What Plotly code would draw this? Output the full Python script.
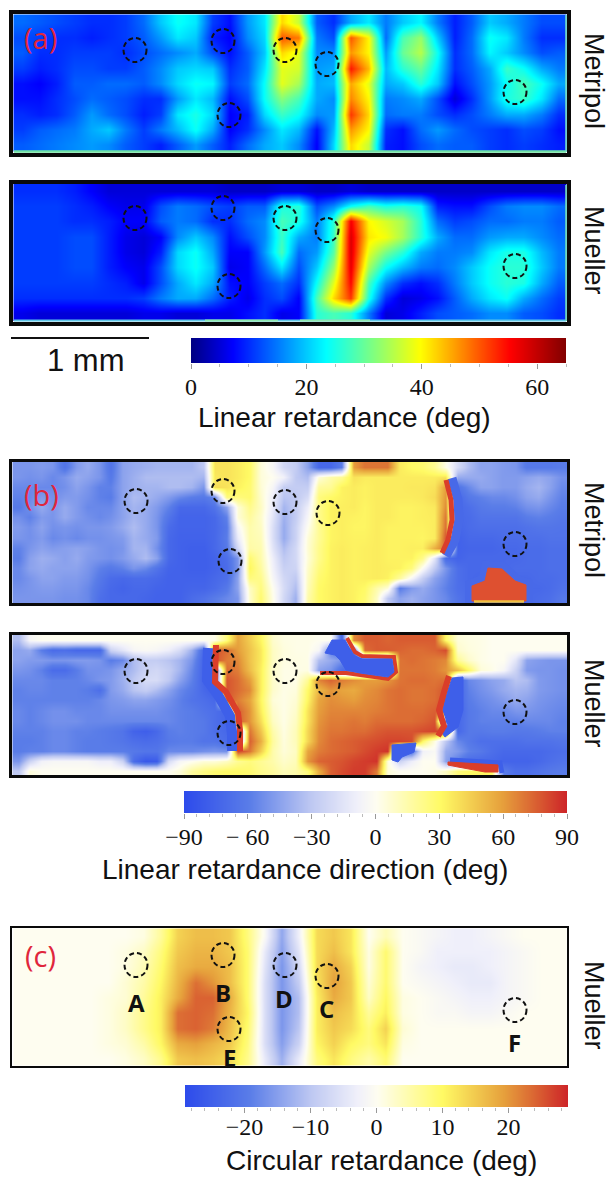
import plotly.graph_objects as go

W, H = 611, 1177

column_x = [22,39,56,74,91,108,125,143,160,177,195,212,229,247,264,281,298,316,333,350,368,385,402,420,437,454,471,489,506,523,541,558]
fine_x = [18,29,41,52,64,76,87,99, 110,122,133,145,156,168,179,191, 203,214,226,237,249,260,272,283,
          295,307,318,330,341,353,364,376, 387,399,411,422,434,445,457,468, 480,491,503,515,526,538,549,561]

a1_rows = [22,37,52,68,83,98,114,129,144]
a1_metripol = [
[14,13,12,11, 10,10,11,14, 20,24,22,11, 8,17,22,42, 36,13,10,18, 22,15,20,23, 15,9,13,20, 18,15,12,12],
[12,11,10,10, 9,10,11,13, 17,22,20,9, 7,16,21,50, 48,15,12,50, 40,14,28,33, 20,9,14,24, 22,15,10,10],
[13,10,10,11, 11,11,10,12, 14,16,18,12, 8,13,20,42, 38,16,16,46, 40,17,30,35, 24,10,14,23, 20,16,12,13],
[11,9,10,12, 12,11,11,13, 16,20,21,20, 10,13,22,38, 37,17,18,54, 44,19,26,30, 22,10,13,18, 27,24,18,15],
[8,7,9,13, 13,14,14,13, 16,21,24,23, 11,14,24,38, 34,18,19,45, 38,18,20,26, 20,8,12,17, 24,28,24,18],
[8,8,10,12, 14,13,12,10, 10,17,22,19, 8,12,24,32, 28,18,16,47, 40,15,16,18, 12,5,10,17, 25,27,22,14],
[10,9,10,13, 17,14,12,9, 11,22,25,21, 7,9,21,27, 24,16,17,52, 42,14,15,15, 12,10,12,15, 18,18,15,10],
[11,13,14,15, 18,20,15,11, 15,19,24,18, 7,10,16,22, 19,8,19,46, 40,10,8,14, 17,14,12,11, 10,12,11,8],
[13,14,15,16, 17,16,13,11, 9,13,17,13, 9,14,18,20, 16,7,21,42, 36,9,8,12, 14,13,13,11, 10,11,10,9],
]

a2_rows = [191,206,221,237,252,267,283,298,313]
a2_mueller = [
[10,10,10,9, 7,5,5,5, 5,5,5,5, 4,4,4,5, 5,4,4,5, 4,4,4,4, 4,4,4,4, 4,4,4,4],
[11,11,11,10, 9,7,6,6, 12,15,14,12, 11,13,13,25, 26,12,16,24, 28,25,26,24, 9,8,8,12, 15,16,16,14],
[11,11,11,10, 10,9,7,7, 13,15,14,10, 10,14,16,28, 25,15,26,56, 40,37,34,26, 14,11,12,14, 14,15,15,13],
[11,11,11,12, 12,9,6,5, 7,16,20,16, 8,12,16,27, 18,15,27,58, 41,39,34,26, 18,14,14,17, 18,18,16,14],
[11,11,11,12, 12,9,6,5, 9,21,24,18, 7,7,17,28, 14,17,29,58, 38,31,26,18, 15,15,16,22, 25,25,19,15],
[11,11,11,12, 12,9,7,6, 12,21,24,20, 6,7,14,22, 12,20,33,57, 34,24,19,15, 14,16,20,24, 26,26,20,15],
[11,11,11,11, 11,10,9,6, 12,18,22,18, 8,7,11,14, 10,24,38,55, 28,16,10,8, 10,15,20,24, 26,25,18,13],
[10,10,10,10, 10,10,10,11, 15,18,18,14, 9,6,10,12, 7,28,42,52, 25,10,5,6, 8,13,18,22, 24,18,14,11],
[6,5,5,5, 5,5,5,6, 6,5,5,6, 6,8,10,6, 7,26,28,26, 15,5,6,9, 12,13,14,16, 16,13,12,10],
]

b1_rows = [467,477,487,497,507,517,527,538,548,558,568,578,588,598]
b1_metripol = [
[-50,-50,-48,-50,-65,-48,-42,-50, -65,-45,-42,-40,-38,-38,-38,-38, -30,38,38,35,30,5,-5,-22, -28,-45,-72,-72,-60,60,70,70, 70,35,30,28,20,2,-20,-35, -45,-45,-48,-50,-62,-62,-62,-60],
[-50,-52,-50,-55,-50,-42,-45,-50, -62,-45,-40,-35,-35,-35,-35,-35, -38,36,38,35,30,5,0,-8, -30,-35,5,15,20,38,35,35, 35,35,35,35,35,38,-42,-42, -42,-45,-48,-48,-45,-42,-45,-52],
[-55,-55,-55,-55,-52,-45,-50,-58, -58,-45,-40,-38,-38,-35,-35,-38, -50,40,38,33,28,6,-5,-28, -28,-28,18,20,33,35,33,35, 35,35,36,36,38,60,-65,-55, -45,-45,-48,-48,-42,-38,-45,-55],
[-58,-55,-48,-52,-48,-48,-52,-58, -60,-45,-35,-38,-42,-48,-55,-60, -62,-55,25,25,28,8,-10,-32, -30,-20,25,30,33,35,33,35, 35,35,35,36,40,62,-72,-62, -58,-55,-55,-52,-45,-42,-50,-58],
[-62,-52,-42,-50,-42,-48,-55,-55, -55,-45,-38,-42,-48,-58,-72,-72, -72,-65,-45,5,22,10,-12,-38, -28,-10,22,33,34,35,32,35, 35,33,33,34,36,65,-72,-68, -62,-60,-60,-58,-52,-50,-55,-60],
[-52,-58,-48,-50,-42,-48,-52,-55, -52,-45,-38,-42,-50,-65,-75,-75, -75,-72,-58,5,18,8,-15,-40, -28,-5,22,33,34,33,32,35, 35,33,33,34,35,70,-72,-70, -65,-65,-65,-65,-60,-58,-60,-63],
[-48,-52,-45,-52,-50,-52,-50,-50, -48,-42,-35,-42,-50,-70,-75,-75, -75,-72,-62,-5,15,10,-18,-42, -25,0,20,32,34,32,32,35, 33,33,33,33,35,72,-74,-70, -68,-68,-68,-68,-66,-64,-64,-65],
[-50,-52,-48,-55,-52,-55,-52,-52, -50,-48,-38,-42,-48,-72,-76,-76, -76,-72,-60,-12,15,12,-18,-42, -25,5,20,32,34,33,33,35, 33,33,33,32,35,78,-76,-72, -72,-72,-70,-70,-68,-68,-66,-66],
[-58,-50,-45,-48,-46,-44,-46,-50, -52,-50,-38,-38,-52,-72,-76,-78, -78,-72,-62,-22,16,14,-15,-35, -22,6,22,33,35,33,34,35, 33,33,34,34,55,72,-76,-74, -74,-74,-72,-72,-70,-70,-68,-68],
[-60,-46,-40,-42,-46,-42,-48,-50, -52,-48,-42,-35,-45,-72,-76,-78, -78,-75,-68,-50,28,15,-10,-30, -22,5,22,33,35,33,34,35, 33,33,33,22,-15,-70,-75,-72, -72,-72,-72,-72,-70,-70,-68,-68],
[-55,-45,-42,-45,-45,-45,-50,-58, -62,-58,-50,-55,-65,-75,-76,-78, -78,-75,-70,-50,32,18,-8,-26, -24,8,25,33,35,33,34,35, 34,33,25,-2,-30,-50,-68,-72, -72,-72,-72,-70,-70,-70,-68,-68],
[-55,-50,-45,-45,-48,-48,-52,-62, -70,-72,-70,-70,-72,-76,-76,-76, -76,-72,-68,-45,25,22,-5,-22, -30,10,28,33,35,33,34,35, 33,18,-5,-28,-45,-55,-68,-72, -74,-72,-72,-72,-72,-70,-70,-68],
[-52,-50,-48,-48,-50,-50,-55,-65, -72,-75,-72,-72,-75,-76,-76,-74, -74,-70,-62,-45,10,25,0,-20, -35,12,30,33,35,33,30,15, 5,-60,-48,-42,-50,-58,-68,-70, -72,-72,-72,-72,-72,-72,-70,-66],
[-50,-50,-50,-50,-52,-52,-55,-68, -72,-72,-72,-74,-76,-76,-76,-70, -66,-60,-55,-50,8,28,2,-22, -40,15,30,33,35,33,28,10, -30,-45,-40,-45,-50,-55,-65,-70, -72,-72,-72,-72,-72,-70,-68,-62],
]

b2_rows = [640,650,660,670,680,690,700,711,721,731,741,751,761,771]
b2_mueller = [
[-35,-5,0,0,0,0,0,0, 0,0,0,0,0,0,0,0, 0,2,25,58,45,32,8,3, 2,2,0,0,-72,65,76,76, 74,76,76,76,76,30,5,3, 2,0,0,0,0,0,0,0],
[-45,-42,-60,-70,-68,-72,-72,-72, -25,-15,-5,-3,-5,-10,-20,-40, -72,78,72,60,48,36,10,4, 2,2,-5,-60,-72,-72,72,76, 76,74,72,72,74,80,8,4, 2,0,0,0,0,0,0,0],
[-45,-48,-48,-50,-50,-48,-48,-50, -60,-55,-35,-28,-28,-32,-38,-50, -75,78,68,65,48,36,10,3, 3,2,-35,-42,-50,-72,-72,-72, -72,70,72,70,68,65,20,8, 2,0,0,-15,-45,-48,-50,-50],
[-50,-52,-58,-70,-70,-60,-52,-52, -50,-42,-35,-25,-22,-28,-38,-55, -75,-78,72,68,50,34,8,2, 2,3,-45,-50,-68,-72,-72,-72, -72,70,70,70,68,62,50,30, 5,2,-5,-25,-48,-50,-50,-52],
[-55,-55,-55,-58,-58,-58,-55,-50, -48,-40,-30,-20,-20,-30,-45,-58, -75,-78,78,72,60,34,8,2, 2,20,66,74,68,64,60,60, 62,70,72,72,70,72,-75,-55, -50,-45,-42,-32,-35,-48,-50,-52],
[-58,-56,-56,-58,-58,-58,-60,-68, -48,-42,-32,-28,-35,-45,-55,-62, -72,-78,78,72,65,34,8,2, 4,30,52,62,58,56,62,65, 70,72,70,70,72,78,-75,-58, -52,-48,-42,-38,-40,-48,-50,-52],
[-58,-58,-58,-58,-58,-58,-58,-55, -50,-48,-45,-45,-48,-52,-58,-65, -68,-72,78,68,58,32,5,2, 6,32,58,64,62,60,64,66, 70,72,70,70,72,80,-75,-60, -55,-52,-48,-42,-45,-50,-52,-54],
[-55,-58,-55,-52,-52,-55,-55,-55, -52,-52,-52,-52,-52,-55,-58,-60, -65,-68,-74,76,62,35,8,2, 8,38,60,66,66,66,66,68, 70,72,72,72,75,80,-76,-62, -58,-55,-55,-50,-50,-52,-54,-56],
[-55,-58,-55,-52,-52,-52,-55,-55, -55,-55,-55,-55,-55,-55,-58,-60, -62,-68,-74,76,62,40,10,2, 10,38,62,68,68,70,68,72, 72,72,72,74,78,-72,-72,-62, -58,-58,-58,-58,-55,-55,-55,-58],
[-58,-58,-58,-55,-55,-58,-58,-60, -62,-65,-75,-78,-72,-60,-58,-60, -62,-68,-72,-78,70,48,15,3, 12,42,64,70,70,72,72,76, 78,78,78,80,82,80,-72,-62, -62,-60,-60,-62,-62,-60,-58,-58],
[-60,-60,-58,-55,-55,-58,-60,-60, -62,-64,-68,-70,-68,-62,-60,-60, -65,-65,-70,-76,75,55,18,4, 12,42,65,72,74,76,78,80, 82,82,80,30,3,-30,-55,-62, -68,-68,-68,-68,-66,-66,-66,-64],
[-60,-58,-58,-55,-55,-58,-60,-60, -60,-60,-62,-64,-64,-55,-55,-55, -52,-50,-52,82,70,45,15,5, 10,58,68,72,74,76,80,84, 86,-70,-68,-8,-3,-42,-48,-58, -62,-68,-72,-72,-72,-72,-70,-68],
[-50,-25,-8,-5,-5,-5,-5,-10, -10,-25,-70,-82,-80,-20,-5,0, 5,5,10,20,25,20,15,8, 12,62,74,76,78,82,84,86, 5,-25,-10,0,0,-45,-60,-70, -72,-72,-75,-75,-75,-72,-68,-65],
[-30,5,0,0,0,0,0,0, 0,0,0,0,0,0,5,18, 24,28,30,30,28,22,18,12, 15,25,55,75,80,84,84,68, 5,0,0,0,2,10,26,30, 32,30,-60,-68,-68,-65,-62,-60],
]

c_rows = [936,951,966,982,997,1012,1028,1043,1058]
c_mueller = [
[0,0,0,0, 0,0,0,1, 6,14,16,16, 15,8,-1,-14, -3,13,15,12, 0,4,0,-1, -2,-3,-3,-2, -1,0,0,0],
[0,0,0,0, 0,0,1,3, 8,15,17,17, 15,9,-4,-15, -5,13,16,12, 1,9,0,-1, -3,-3,-3,-3, -2,-1,0,0],
[0,0,0,0, 0,0,1,4, 9,16,18,18, 16,9,-5,-16, -7,13,18,14, 1,9,0,-2, -3,-4,-4,-3, -2,-1,0,0],
[0,0,0,0, 0,0,2,5, 10,17,23,20, 16,9,-6,-16, -9,12,19,15, 2,9,0,-1, -2,-3,-4,-4, -2,-1,0,0],
[0,0,0,0, 0,1,2,6, 11,18,24,24, 18,9,-6,-16, -11,11,18,15, 3,10,1,0, -1,-2,-3,-3, -2,-1,0,0],
[0,0,0,0, 0,1,3,7, 11,23,24,23, 17,10,-6,-16, -11,11,16,14, 6,11,1,0, -1,-1,-2,-2, -1,0,0,0],
[0,0,0,0, 0,1,3,7, 11,23,24,22, 16,9,-6,-16, -10,11,15,13, 8,14,2,0, 0,0,0,0, 0,0,0,0],
[0,0,0,0, 0,1,2,5, 10,18,19,17, 15,8,-6,-15, -8,10,14,10, 8,12,1,0, 0,0,0,0, 0,0,0,0],
[0,0,0,0, 0,0,1,3, 7,15,16,15, 13,7,-4,-13, -4,8,12,8, 5,9,0,0, 0,0,0,0, 0,0,0,0],
]

ret_levels = [0,5,10,15,20,25,30,35,40,45,50,55,60,65]
dir_levels = [-90,-75,-60,-45,-30,-15,0,15,30,45,60,75,90]
circ_levels = [-29,-25,-20,-15,-10,-5,0,5,10,15,20,25,29]

# sharp edges in panel (b)
b1_arc_blue = [(452,478),(458,500),(459,520),(455,540),(446,556)]
b1_arc_red = [(446,480),(451,500),(452,520),(448,540),(442,553)]
b1_blob = [(472,601),(472,586),(485,581),(488,568),(502,569),(515,581),(526,585),(526,601)]
b2_left_blue = [(208,648),(207,680),(218,695),(230,716),(232,735),(232,751)]
b2_left_red = [(216,645),(215,682),(226,692),(238,713),(240,730),(240,751)]
b2_right_blue = [(452,678),(463,677),(463,710),(458,727),(445,737),(442,733),(448,725),(443,710),(448,690)]
b2_right_red = [(449,676),(444,692),(439,710),(444,726),(438,736)]
b2_notch_blue = [(332,640),(345,640),(353,655),(362,659),(392,659),(394,672),(388,677),(360,673),(346,670),(340,660),(335,655),(325,653)]
b2_notch_red = [(320,673),(346,673),(388,679),(396,672),(394,657),(362,656),(355,652),(347,638)]
b2_low_blue = [(392,745),(416,743),(414,752),(402,757),(398,762),(392,760)]
b2_low_red = [(448,762),(498,765),(498,772),(485,772),(458,767),(448,765)]
b2_low_edge = [(450,760),(500,763),(502,773)]

jet = [[0,"rgb(0,0,130)"],[0.11,"rgb(0,0,255)"],[0.36,"rgb(0,255,255)"],[0.61,"rgb(255,255,0)"],[0.85,"rgb(255,0,0)"],[1,"rgb(128,0,0)"]]
diverging = [[0,"rgb(45,75,235)"],[0.17,"rgb(90,125,232)"],[0.33,"rgb(190,200,242)"],[0.45,"rgb(240,240,250)"],[0.5,"rgb(254,253,240)"],[0.67,"rgb(255,250,100)"],[0.83,"rgb(230,160,60)"],[1,"rgb(205,35,40)"]]

def xd(a, b): return [a / W, b / W]
def yd(a, b): return [1 - b / H, 1 - a / H]

panels = [
    (a1_metripol, column_x, a1_rows, jet, 0, 65, (13,567,14,153), 3.5),
    (a2_mueller, column_x, a2_rows, jet, 0, 65, (13,567,184,322), 3.5),
    (b1_metripol, fine_x, b1_rows, diverging, -90, 90, (12,567,462,603), 3),
    (b2_mueller, fine_x, b2_rows, diverging, -90, 90, (12,567,635,775), 3),
    (c_mueller, column_x, c_rows, diverging, -29, 29, (12,567,928,1066), 2),
]
fig = go.Figure()
layout = {}
shapes = []
annotations = []

for n, (z, xs, rows, cs, lo, hi, box, lw) in enumerate(panels, start=1):
    fig.add_trace(go.Heatmap(x=xs, y=rows, z=z, colorscale=cs, zmin=lo, zmax=hi, zsmooth="best",
                             showscale=False, xaxis=f"x{n}", yaxis=f"y{n}", hoverinfo="skip"))
    layout[f"xaxis{n}"] = dict(domain=xd(box[0], box[1]), range=[box[0], box[1]], anchor=f"y{n}", showgrid=False,
                               zeroline=False, showticklabels=False, ticks="", showline=True, mirror=True,
                               linecolor="#0a0a0a", linewidth=lw, automargin=False)
    layout[f"yaxis{n}"] = dict(domain=yd(box[2], box[3]), range=[box[3], box[2]], anchor=f"x{n}", showgrid=False,
                               zeroline=False, showticklabels=False, ticks="", showline=True, mirror=True,
                               linecolor="#0a0a0a", linewidth=lw, automargin=False)

bars = [
    (ret_levels, jet, 0, 65, (191,566,338,363), [0,20,40,60], ["0","20","40","60"], 5, -3),
    (dir_levels, diverging, -90, 90, (184,567,791,813), [-90,-60,-30,0,30,60,90], ["−90","− 60","−30","0","30","60","90"], 6, -3),
    (circ_levels, diverging, -29, 29, (185,568,1085,1107), [-20,-10,0,10,20], ["−20","−10","0","10","20"], 2, -7),
]
for k, (lev, cs, lo, hi, box, tv, tt, minor, stand) in enumerate(bars, start=6):
    fig.add_trace(go.Heatmap(x=lev, y=[0,1], z=[lev, lev], colorscale=cs, zmin=lo, zmax=hi, zsmooth="best",
                             showscale=False, xaxis=f"x{k}", yaxis=f"y{k}", hoverinfo="skip"))
    layout[f"xaxis{k}"] = dict(domain=xd(box[0], box[1]), range=[lo, hi], anchor=f"y{k}", showgrid=False, zeroline=False,
                               tickmode="array", tickvals=tv, ticktext=tt, ticks="outside", ticklen=5, tickwidth=1,
                               tickcolor="#999999", automargin=False, ticklabelstandoff=stand,
                               tickfont=dict(family="Liberation Serif", size=24, color="#111111"),
                               minor=dict(ticks="outside", ticklen=3, tickwidth=1, tickcolor="#bbbbbb", dtick=minor,
                                          tick0=0, showgrid=False))
    layout[f"yaxis{k}"] = dict(domain=yd(box[2], box[3]), range=[0, 1], anchor=f"x{k}", showgrid=False, zeroline=False,
                               showticklabels=False, ticks="", automargin=False)

def path_of(points, closed=False):
    d = "M " + " L ".join(f"{x},{y}" for x, y in points)
    return d + " Z" if closed else d

BLUE, RED = "rgb(62,95,233)", "rgb(218,62,42)"
def stroke(n, pts, col, w, closed=False):
    shapes.append(dict(type="path", path=path_of(pts, closed), xref=f"x{n}", yref=f"y{n}",
                       line=dict(color=col, width=w)))
def patch(n, pts, col):
    shapes.append(dict(type="path", path=path_of(pts, True), xref=f"x{n}", yref=f"y{n}",
                       fillcolor=col, line=dict(color=col, width=1)))

stroke(3, b1_arc_blue, "rgb(72,105,232)", 9)
stroke(3, b1_arc_red, RED, 5)
stroke(3, b1_blob, "rgb(72,105,232)", 14, closed=True)
patch(3, b1_blob, "rgb(222,80,48)")
stroke(4, b2_left_blue, BLUE, 10)
stroke(4, b2_left_red, RED, 6)
patch(4, b2_right_blue, BLUE)
stroke(4, b2_right_red, RED, 6)
stroke(4, b2_notch_red, RED, 4)
patch(4, b2_notch_blue, BLUE)
patch(4, b2_low_blue, BLUE)
stroke(4, b2_low_edge, BLUE, 5)
patch(4, b2_low_red, RED)

circle_centres = {
    1: [(135,50),(223,41),(285,50),(327,64),(229,115),(515,92)],
    2: [(135,218),(223,208),(285,218),(327,230),(229,286),(515,266)],
    3: [(136,501),(223,491),(285,502),(328,513),(230,561),(515,544)],
    4: [(136,671),(223,662),(285,671),(328,684),(229,733),(515,712)],
    5: [(136,965),(223,955),(285,965),(327,976),(229,1029),(515,1010)],
}
for n, centres in circle_centres.items():
    for cx, cy in centres:
        shapes.append(dict(type="circle", xref=f"x{n}", yref=f"y{n}", x0=cx-11.5, x1=cx+11.5, y0=cy-12, y1=cy+12,
                           line=dict(color="#111111", width=2, dash="5px,3px")))

edge_strips = [
    (1, 14, 566, 151.5, 151.5, "#72e2a4", 2.5),
    (1, 566, 566, 15, 152, "#72e2c0", 1.5),
    (2, 14, 566, 320.5, 320.5, "#5fc6e8", 2),
    (2, 205, 278, 320.5, 320.5, "#8fe8b0", 2),
    (2, 300, 370, 320.5, 320.5, "#8fe8b0", 2),
    (2, 566, 566, 185, 321, "#72e2b0", 1.5),
    (3, 474, 524, 601.5, 601.5, "#f0c040", 2.5),
]
for n, x0, x1, y0, y1, col, w in edge_strips:
    shapes.append(dict(type="line", xref=f"x{n}", yref=f"y{n}", x0=x0, x1=x1, y0=y0, y1=y1, line=dict(color=col, width=w)))

shapes.append(dict(type="line", xref="paper", yref="paper", x0=11/W, x1=149/W, y0=1-338/H, y1=1-338/H,
                   line=dict(color="#111111", width=2.2)))

def note(text, x, y, size, color="#111111", family="Liberation Sans", angle=0, bold=False):
    if bold:
        text = f"<b>{text}</b>"
    annotations.append(dict(text=text, x=x/W, y=1-y/H, xref="paper", yref="paper", showarrow=False, xanchor="center",
                            yanchor="middle", textangle=angle, font=dict(family=family, size=size, color=color)))

for t, x, y in [("(a)",40,37),("(b)",41,495),("(c)",40,955)]:
    note(t, x, y, 29, color="#e0263c", family="Open Sans")
for t, x, y in [("Metripol",594,81),("Mueller",594,250),("Metripol",594,530),("Mueller",594,703),("Mueller",594,1005)]:
    note(t, x, y, 27, angle=90)
note("1 mm", 86, 360, 31)
note("Linear retardance (deg)", 344, 417, 28)
note("Linear retardance direction (deg)", 305, 869, 28)
note("Circular retardance (deg)", 381, 1160, 28)
for t, x, y in [("A",136,1002),("B",223,992),("D",284,998),("C",326,1008),("E",229,1057),("F",514,1042)]:
    note(t, x, y, 24, family="Open Sans", bold=True)

fig.update_layout(width=W, height=H, margin=dict(l=0, r=0, t=0, b=0), paper_bgcolor="white", plot_bgcolor="white",
                  showlegend=False, shapes=shapes, annotations=annotations, **layout)
fig.write_html("out.html", config={"displayModeBar": False}, post_script="document.body.style.margin='0';")
